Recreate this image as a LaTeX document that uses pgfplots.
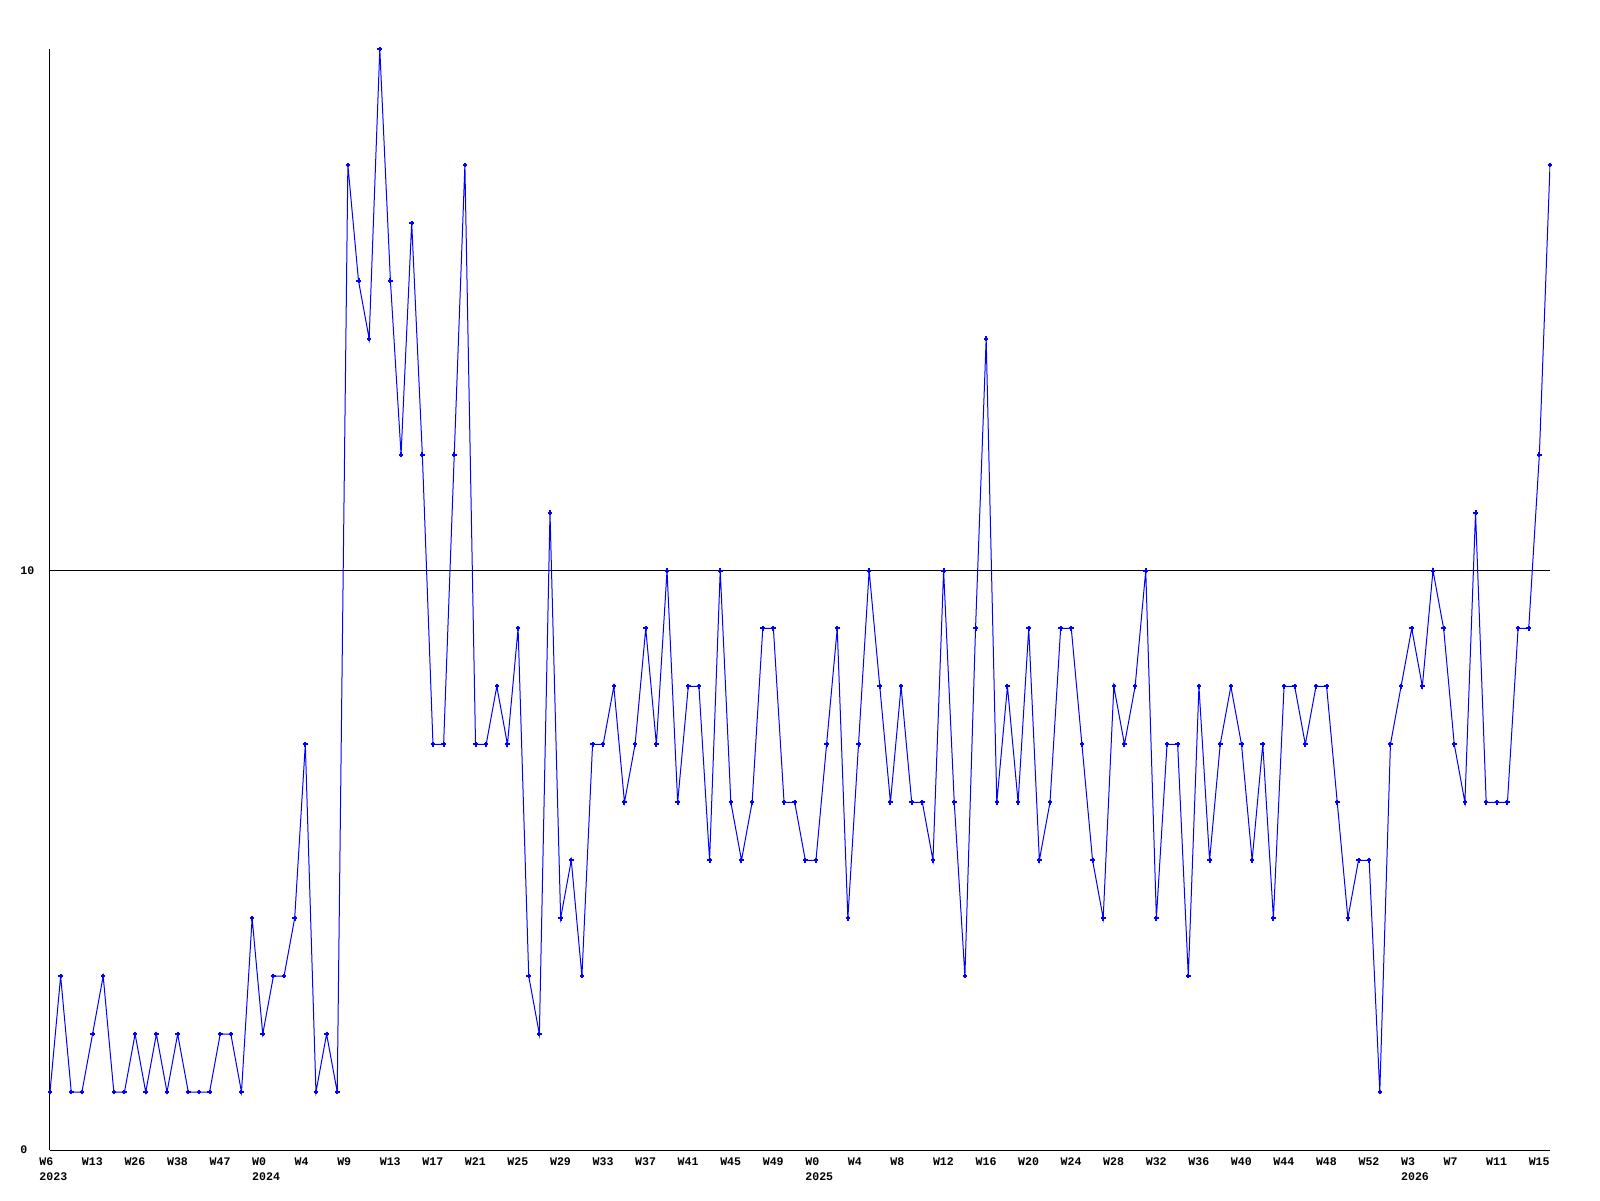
\documentclass[border=0pt]{standalone}
\usepackage{fontspec}
\setmainfont{Liberation Mono}
\usepackage{pgfplots}
\pgfplotsset{compat=1.18}
\definecolor{lineblue}{RGB}{0,0,255}
\begin{document}
\begin{tikzpicture}
\useasboundingbox (-25pt,-25pt) rectangle (775pt,575pt);
\begin{axis}[
  scale only axis,
  width=750pt, height=550.5pt,
  xmin=0, xmax=141, ymin=0, ymax=19,
  axis x line=bottom, axis y line=left,
  axis line style={-, black, line width=0.5pt},
  major tick length=0pt,
  ytick={0,10}, yticklabels={0,10},
  ymajorgrids, grid style={black, line width=0.5pt},
  xtick={0,4,...,140},
  xticklabels={{W6\\2023},W13,W26,W38,W47,{W0\\2024},W4,W9,W13,W17,W21,W25,W29,W33,W37,W41,W45,W49,{W0\\2025},W4,W8,W12,W16,W20,W24,W28,W32,W36,W40,W44,W48,W52,{W3\\2026},W7,W11,W15},
  /pgf/number format/assume math mode=true,
  ticklabel style={font=\fontsize{5.8}{7.5}\selectfont\bfseries},
  xticklabel style={anchor=north west, align=left, inner sep=0pt, xshift=-5.5pt, yshift=-3.5pt},
  yticklabel style={anchor=west, inner sep=0pt, xshift=-15pt},
]
\addplot[color=lineblue, line width=0.5pt, mark=+, mark size=1.15pt, mark options={draw=lineblue, line width=1pt}] coordinates {
(0,1)(1,3)(2,1)(3,1)(4,2)(5,3)(6,1)(7,1)(8,2)(9,1)
(10,2)(11,1)(12,2)(13,1)(14,1)(15,1)(16,2)(17,2)(18,1)(19,4)
(20,2)(21,3)(22,3)(23,4)(24,7)(25,1)(26,2)(27,1)(28,17)(29,15)
(30,14)(31,19)(32,15)(33,12)(34,16)(35,12)(36,7)(37,7)(38,12)(39,17)
(40,7)(41,7)(42,8)(43,7)(44,9)(45,3)(46,2)(47,11)(48,4)(49,5)
(50,3)(51,7)(52,7)(53,8)(54,6)(55,7)(56,9)(57,7)(58,10)(59,6)
(60,8)(61,8)(62,5)(63,10)(64,6)(65,5)(66,6)(67,9)(68,9)(69,6)
(70,6)(71,5)(72,5)(73,7)(74,9)(75,4)(76,7)(77,10)(78,8)(79,6)
(80,8)(81,6)(82,6)(83,5)(84,10)(85,6)(86,3)(87,9)(88,14)(89,6)
(90,8)(91,6)(92,9)(93,5)(94,6)(95,9)(96,9)(97,7)(98,5)(99,4)
(100,8)(101,7)(102,8)(103,10)(104,4)(105,7)(106,7)(107,3)(108,8)(109,5)
(110,7)(111,8)(112,7)(113,5)(114,7)(115,4)(116,8)(117,8)(118,7)(119,8)
(120,8)(121,6)(122,4)(123,5)(124,5)(125,1)(126,7)(127,8)(128,9)(129,8)
(130,10)(131,9)(132,7)(133,6)(134,11)(135,6)(136,6)(137,6)(138,9)(139,9)
(140,12)(141,17)
};
\end{axis}
\end{tikzpicture}
\end{document}
